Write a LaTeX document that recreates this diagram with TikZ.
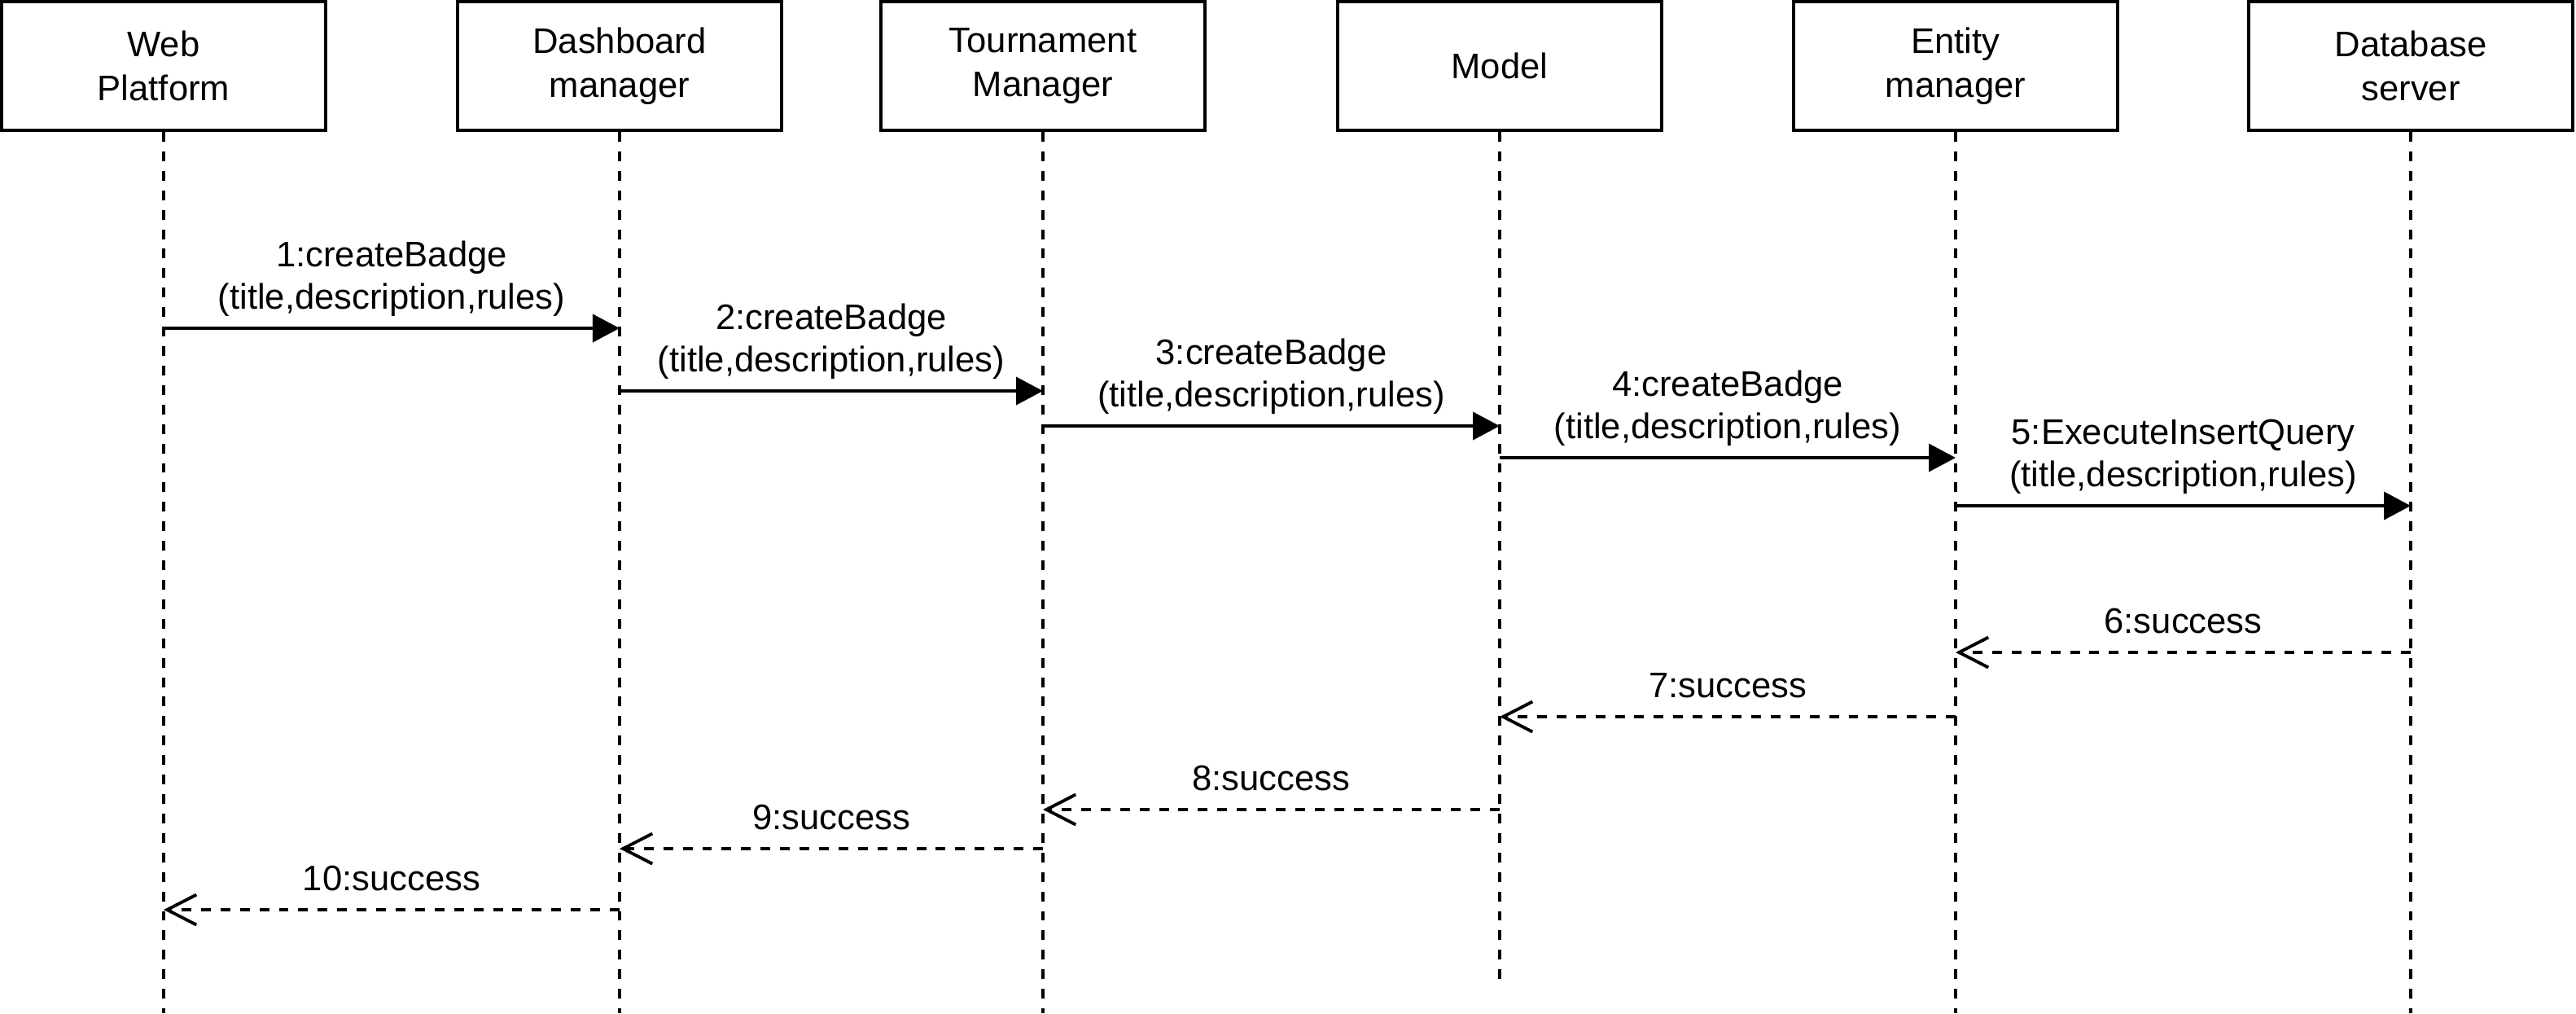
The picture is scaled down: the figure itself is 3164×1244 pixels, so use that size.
\documentclass[tikz,border=0pt]{standalone}
\usepackage{fontspec}
\setmainfont{Liberation Sans}
\usetikzlibrary{arrows.meta, positioning}

\begin{document}
\begin{tikzpicture}[
  x=0.01cm, y=-0.01cm,
  head/.style={rectangle, draw, line width=1.1pt, minimum width=3.98cm, minimum height=1.58cm, align=center, inner sep=0pt, font=\fontsize{12.4}{15.4}\selectfont},
  life/.style={line width=1.1pt, dash pattern=on 3.4pt off 3.4pt},
  call/.style={line width=1.1pt, -{Triangle[length=0.33cm, width=0.34cm]}},
  reply/.style={line width=1.1pt, dash pattern=on 3.4pt off 3.4pt, -{Straight Barb[length=0.36cm, width=0.37cm, line width=1.1pt]}},
  msg/.style={above, inner sep=0pt, text depth=0pt, yshift=0.22cm, align=center, font=\fontsize{12.4}{14.7}\selectfont}
]
\useasboundingbox (0,0) rectangle (3164,1244);

% lifeline heads
\node[head] (web) at (201,81) {Web\\Platform};
\node[head] (dash) at (761,81) {Dashboard\\manager};
\node[head] (tour) at (1281,81) {Tournament\\Manager};
\node[head] (model) at (1842,81) {Model};
\node[head] (entity) at (2402,81) {Entity\\manager};
\node[head] (db) at (2961,81) {Database\\server};

\coordinate (bottom) at (0,1244);
\coordinate (modelend) at (0,1202);

\draw[life] (web.south) -- (web.south |- bottom);
\draw[life] (dash.south) -- (dash.south |- bottom);
\draw[life] (tour.south) -- (tour.south |- bottom);
\draw[life] (model.south) -- (model.south |- modelend);
\draw[life] (entity.south) -- (entity.south |- bottom);
\draw[life] (db.south) -- (db.south |- bottom);

% message levels
\coordinate (m1) at (0,403);
\coordinate (m2) at (0,480);
\coordinate (m3) at (0,523);
\coordinate (m4) at (0,562);
\coordinate (m5) at (0,621);
\coordinate (m6) at (0,801);
\coordinate (m7) at (0,880);
\coordinate (m8) at (0,994);
\coordinate (m9) at (0,1042);
\coordinate (m10) at (0,1117);

% calls
\draw[call] (web |- m1) -- node[msg]{1:createBadge\\(title,description,rules)} (dash |- m1);
\draw[call] (dash |- m2) -- node[msg]{2:createBadge\\(title,description,rules)} (tour |- m2);
\draw[call] (tour |- m3) -- node[msg]{3:createBadge\\(title,description,rules)} (model |- m3);
\draw[call] (model |- m4) -- node[msg]{4:createBadge\\(title,description,rules)} (entity |- m4);
\draw[call] (entity |- m5) -- node[msg]{5:ExecuteInsertQuery\\(title,description,rules)} (db |- m5);

% replies
\draw[reply] (db |- m6) -- node[msg]{6:success} (entity |- m6);
\draw[reply] (entity |- m7) -- node[msg]{7:success} (model |- m7);
\draw[reply] (model |- m8) -- node[msg]{8:success} (tour |- m8);
\draw[reply] (tour |- m9) -- node[msg]{9:success} (dash |- m9);
\draw[reply] (dash |- m10) -- node[msg]{10:success} (web |- m10);
\end{tikzpicture}
\end{document}
